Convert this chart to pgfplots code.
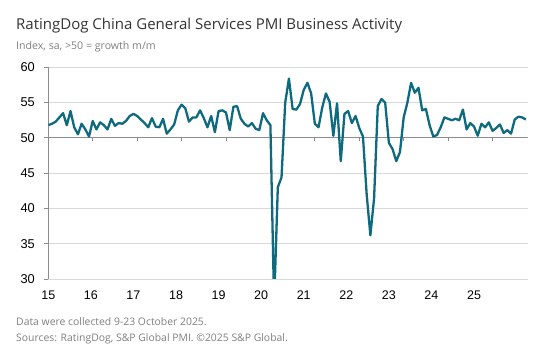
\documentclass[border=0pt]{standalone}
\usepackage{pgfplots}
\pgfplotsset{compat=1.18}
\usepackage{fontspec}
\setmainfont{Open Sans}
\newfontfamily\arial{Liberation Sans}
\definecolor{linec}{HTML}{0F6A80}
\definecolor{gridc}{HTML}{D9D9D9}
\definecolor{axc}{HTML}{8C8C8C}
\definecolor{txtg}{HTML}{7F7F7F}
\begin{document}
\begin{tikzpicture}
\useasboundingbox (0,0) rectangle (542pt,357pt);
\node[anchor=base west, inner sep=0pt, font=\fontsize{15}{17}\selectfont, text=black!80] at (16pt,327pt) {RatingDog China General Services PMI Business Activity};
\node[anchor=base west, inner sep=0pt, font=\fontsize{10.6}{12}\selectfont, text=txtg] at (16pt,307pt) {Index, sa, >50 = growth m/m};
\node[anchor=base west, inner sep=0pt, font=\fontsize{10.4}{12}\selectfont, text=txtg] at (16pt,32pt) {Data were collected 9-23 October 2025.};
\node[anchor=base west, inner sep=0pt, font=\fontsize{10.4}{12}\selectfont, text=txtg] at (16pt,15.5pt) {Sources: RatingDog, S\&P Global PMI. \textcopyright2025 S\&P Global.};
\begin{axis}[
  at={(48.3pt,78pt)}, anchor=south west,
  scale only axis, width=479.4pt, height=211.7pt,
  xmin=0, xmax=129.5, ymin=30, ymax=60,
  axis x line*=bottom,
  axis y line*=left,
  x axis line style={draw=none},
  y axis line style={axc, line width=0.8pt, -},
  ytick={30,35,...,60},
  xtick={0,11.5,23,34.5,46,57.5,69,80.5,92,103.5,115},
  xticklabels={15,16,17,18,19,20,21,22,23,24,25},
  xtick style={draw=none},
  xticklabel style={font=\arial\fontsize{12.5}{14}\selectfont, yshift=-4pt},
  ymajorgrids, grid style={gridc, line width=0.8pt},
  ytick style={axc, line width=0.8pt},
  tick align=outside, major tick length=4pt,
  yticklabel style={font=\arial\fontsize{12.8}{14}\selectfont, xshift=-6pt},
  /pgf/number format/assume math mode=true,
  clip=true,
]
\draw[axc, line width=1.2pt] (axis cs:0,50) -- (axis cs:129.5,50);
\pgfplotsinvokeforeach{12,24,36,48,60,72,84,96,108,120}{
  \draw[axc, line width=0.8pt] (axis cs:#1,50) -- ([yshift=-3pt]axis cs:#1,50);
}
\addplot[linec, line width=2.3pt, line join=round, mark=none] table[x expr=\coordindex, y=v] {
v
51.8
52.0
52.3
52.9
53.5
51.8
53.8
51.5
50.5
52.0
51.2
50.2
52.4
51.2
52.2
51.8
51.2
52.7
51.7
52.1
52.0
52.4
53.1
53.4
53.1
52.6
52.1
51.5
52.8
51.6
51.5
52.7
50.6
51.2
51.9
53.9
54.7
54.2
52.3
52.9
52.9
53.9
52.8
51.5
53.1
50.8
53.8
53.9
53.6
51.1
54.4
54.5
52.7
52.0
51.6
52.1
51.3
51.1
53.5
52.5
51.8
26.5
43.0
44.4
55.0
58.4
54.1
54.0
54.8
56.8
57.8
56.3
52.0
51.5
54.3
56.3
55.1
50.3
54.9
46.7
53.4
53.8
52.1
53.1
51.4
50.2
42.0
36.2
41.4
54.5
55.5
55.0
49.3
48.4
46.7
48.0
52.9
55.0
57.8
56.4
57.1
53.9
54.1
51.8
50.2
50.4
51.5
52.9
52.7
52.5
52.7
52.5
54.0
51.2
52.1
51.6
50.3
52.0
51.5
52.2
51.0
51.4
51.9
50.7
51.1
50.6
52.6
53.0
52.9
52.6
};
\end{axis}
\end{tikzpicture}
\end{document}
